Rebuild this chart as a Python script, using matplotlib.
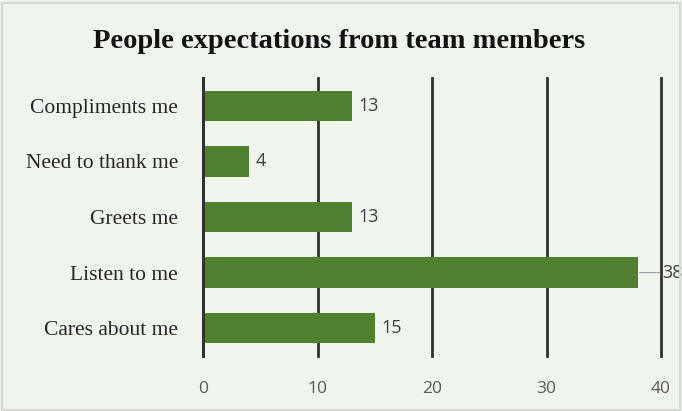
import matplotlib.pyplot as plt
from matplotlib.patches import Rectangle

categories = ["Cares about me", "Listen to me", "Greets me", "Need to thank me", "Compliments me"]
values = [15, 38, 13, 4, 13]
xticks = [0, 10, 20, 30, 40]

bg = "#eff4ec"
bar_color = "#507f2f"

fig = plt.figure(figsize=(6.82, 4.11), dpi=100, facecolor=bg)
ax = fig.add_axes([0.2977, 0.134, 0.6716, 0.676], facecolor=bg)

ax.barh(categories, values, height=0.55, color=bar_color, zorder=3)

ax.set_xlim(0, 40)
ax.set_ylim(-0.5, 4.5)
ax.set_xticks(xticks)
ax.set_xticklabels([str(t) for t in xticks], family="Open Sans", fontsize=12.5, color="#595959")
ax.tick_params(axis="x", length=0, pad=18)
ax.tick_params(axis="y", length=0, pad=18)
for lbl in ax.get_yticklabels():
    lbl.set_family("Liberation Serif")
    lbl.set_fontsize(15.5)
    lbl.set_color("#262626")

ax.grid(axis="x", color="#303030", linewidth=2, zorder=1)
for gl in ax.get_xgridlines():
    gl.set_clip_on(False)
ax.grid(axis="y", visible=False)
for s in ["top", "right", "bottom"]:
    ax.spines[s].set_visible(False)
ax.spines["left"].set_color("#303030")
ax.spines["left"].set_linewidth(2)
ax.spines["left"].set_zorder(4)

# data labels
for i, v in enumerate(values):
    if v == max(values):
        ax.annotate(str(v), xy=(v, i), xytext=(v + 2.1, i), va="center", ha="left",
                    family="Open Sans", fontsize=13, color="#404040",
                    arrowprops=dict(arrowstyle="-", color="#a0a0a0", lw=0.8,
                                    shrinkA=0, shrinkB=1),
                    annotation_clip=False, zorder=5)
    else:
        ax.text(v + 0.6, i, str(v), va="center", ha="left",
                family="Open Sans", fontsize=13, color="#404040", zorder=5)

fig.suptitle("People expectations from team members", x=0.497, y=0.93,
             family="Liberation Serif", fontweight="bold", fontsize=20.5, color="#111111")

fig.patches.append(Rectangle((0.003, 0.003), 0.994, 0.99, transform=fig.transFigure,
                             fill=False, edgecolor="#d6d9d4", linewidth=1.5))

fig.savefig("out.png", dpi=100, facecolor=bg)
